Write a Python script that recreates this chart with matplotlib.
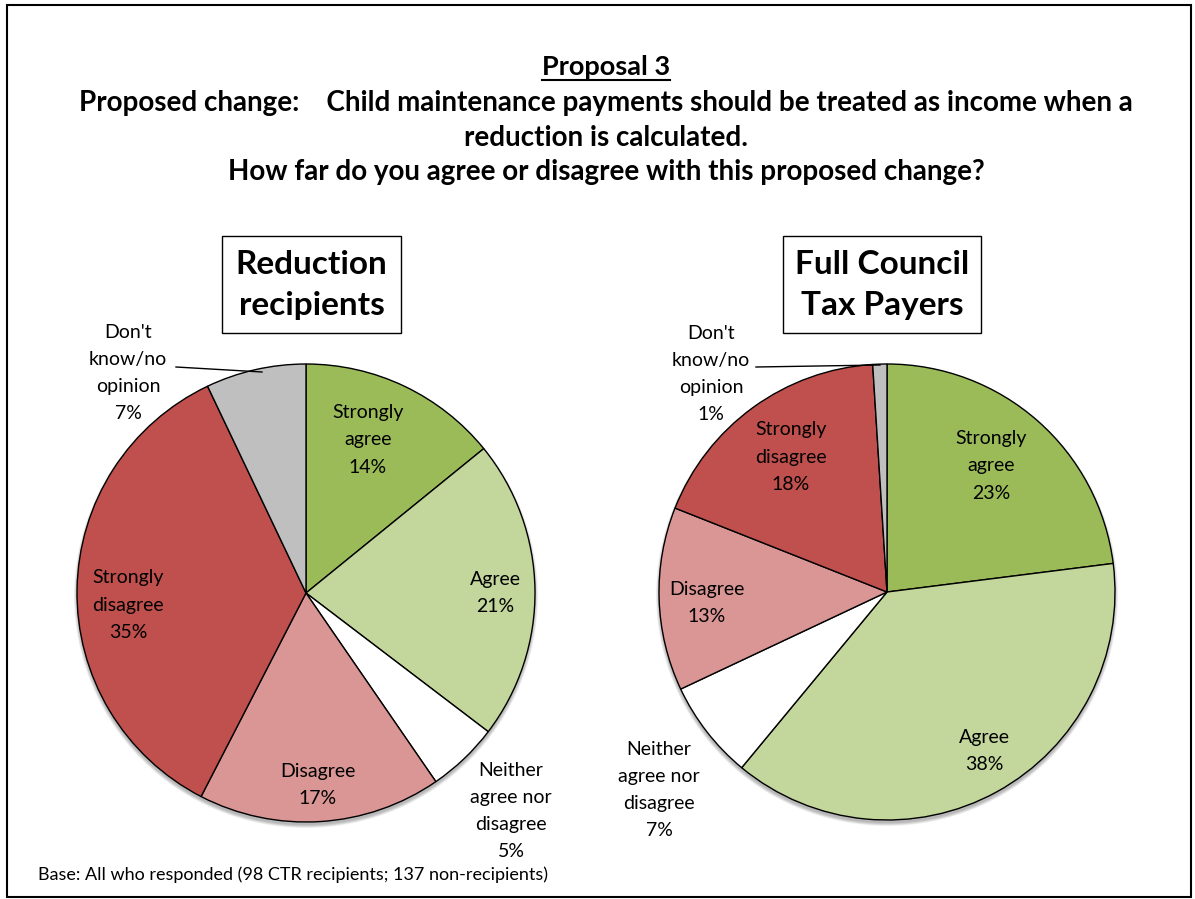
import matplotlib
matplotlib.use("Agg")
import matplotlib.pyplot as plt
from matplotlib.patches import Rectangle, Circle

plt.rcParams['font.family'] = ['Lato', 'DejaVu Sans']

categories = ["Strongly agree", "Agree", "Neither agree nor disagree",
              "Disagree", "Strongly disagree", "Don't know/no opinion"]
label_text = ["Strongly\nagree", "Agree", "Neither\nagree nor\ndisagree",
              "Disagree", "Strongly\ndisagree", "Don't\nknow/no\nopinion"]
reduction_recipients = [14, 21, 5, 17, 35, 7]
full_tax_payers = [23, 38, 7, 13, 18, 1]
colors = ["#9BBB59", "#C3D69B", "#FFFFFF", "#D99694", "#C0504D", "#BFBFBF"]

W, H = 1195, 899
fig = plt.figure(figsize=(W / 100, H / 100), dpi=100)
ax = fig.add_axes([0, 0, 1, 1])


def Y(y):
    return H - y


def draw_pie(values, cx, cy, r, label_pos, leader):
    # soft shadow
    for k in range(6):
        ax.add_patch(Circle((cx, Y(cy) - 3), r + 3 - k * 0.6, color="black",
                            alpha=0.05, lw=0, zorder=1))
    ax.pie(values, colors=colors, startangle=90, counterclock=False,
           center=(cx, Y(cy)), radius=r,
           wedgeprops=dict(edgecolor="black", linewidth=1.0, zorder=2))
    for txt, v, (lx, ly) in zip(label_text, values, label_pos):
        ax.text(lx, Y(ly), f"{txt}\n{v}%", ha="center", va="center",
                fontsize=14, linespacing=1.72, color="black", zorder=5)
    (x0, y0), (x1, y1) = leader
    ax.plot([x0, x1], [Y(y0), Y(y1)], color="black", lw=1, zorder=4)


draw_pie(reduction_recipients, 306, 593, 229,
         [(368, 440), (495, 593), (511, 811), (318, 785), (128, 605), (128, 373)],
         ((176, 367), (262, 372)))
draw_pie(full_tax_payers, 887, 592, 228,
         [(991, 466), (984, 751), (659, 790), (707, 603), (791, 457), (711, 374)],
         ((756, 367), (880, 365)))

ax.set_xlim(0, W)
ax.set_ylim(0, H)
ax.set_aspect("auto")
ax.axis("off")

# frame
ax.add_patch(Rectangle((7, Y(897)), 1184, 892, fill=False, ec="black", lw=1.5, zorder=6))

# titles
ax.text(606, Y(67), "Proposal 3", ha="center", va="center", fontsize=19.5,
        fontweight="bold")
ax.plot([542, 670], [Y(80), Y(80)], color="black", lw=1.5)
ax.text(606, Y(103), "Proposed change:    Child maintenance payments should be treated as income when a",
        ha="center", va="center", fontsize=20, fontweight="bold")
ax.text(606, Y(138), "reduction is calculated.", ha="center", va="center",
        fontsize=20, fontweight="bold")
ax.text(606, Y(172), "How far do you agree or disagree with this proposed change?",
        ha="center", va="center", fontsize=20, fontweight="bold")

# boxes
for (bx0, bx1), t in [((222, 401), "Reduction\nrecipients"),
                      ((783, 981), "Full Council\nTax Payers")]:
    ax.add_patch(Rectangle((bx0, Y(333)), bx1 - bx0, 97, fill=True, fc="white",
                           ec="black", lw=1, zorder=6))
    ax.text((bx0 + bx1) / 2, Y(285), t, ha="center", va="center", fontsize=24,
            fontweight="bold", linespacing=1.5, zorder=7)

ax.text(38, Y(875), "Base: All who responded (98 CTR recipients; 137 non-recipients)",
        ha="left", va="center", fontsize=13)

fig.savefig("out.png", dpi=100)
